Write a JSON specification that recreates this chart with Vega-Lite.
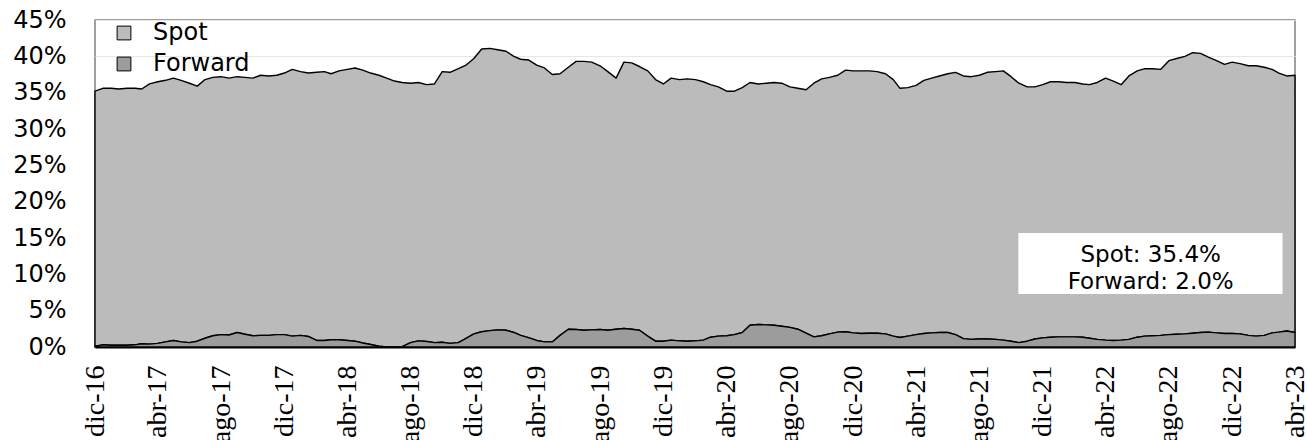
{
  "$schema": "https://vega.github.io/schema/vega-lite/v6.json",
  "width": 1200,
  "height": 327,
  "autosize": {"type": "none"},
  "padding": {"left": 95, "top": 20, "right": 12, "bottom": 93},
  "background": "white",
  "config": {"view": {"stroke": "#808080", "strokeWidth": 1.5}, "font": "DejaVu Sans"},
  "layer": [
    {
      "data": {"values": [
        {"d":"2016-12-01","Spot":35.1,"Forward":0.1},{"d":"2016-12-16","Spot":35.3,"Forward":0.3},
        {"d":"2017-01-01","Spot":35.35,"Forward":0.25},{"d":"2017-01-16","Spot":35.25,"Forward":0.25},
        {"d":"2017-02-01","Spot":35.35,"Forward":0.25},{"d":"2017-02-16","Spot":35.3,"Forward":0.3},
        {"d":"2017-03-01","Spot":35.05,"Forward":0.45},{"d":"2017-03-16","Spot":35.8,"Forward":0.4},
        {"d":"2017-04-01","Spot":36.0,"Forward":0.5},{"d":"2017-04-16","Spot":36.0,"Forward":0.7},
        {"d":"2017-05-01","Spot":36.1,"Forward":0.9},{"d":"2017-05-16","Spot":36.0,"Forward":0.7},
        {"d":"2017-06-01","Spot":35.7,"Forward":0.6},{"d":"2017-06-16","Spot":35.1,"Forward":0.8},
        {"d":"2017-07-01","Spot":35.6,"Forward":1.2},{"d":"2017-07-16","Spot":35.55,"Forward":1.55},
        {"d":"2017-08-01","Spot":35.5,"Forward":1.7},{"d":"2017-08-16","Spot":35.35,"Forward":1.65},
        {"d":"2017-09-01","Spot":35.2,"Forward":2.0},{"d":"2017-09-16","Spot":35.35,"Forward":1.75},
        {"d":"2017-10-01","Spot":35.45,"Forward":1.55},{"d":"2017-10-16","Spot":35.8,"Forward":1.6},
        {"d":"2017-11-01","Spot":35.7,"Forward":1.6},{"d":"2017-11-16","Spot":35.7,"Forward":1.7},
        {"d":"2017-12-01","Spot":36.0,"Forward":1.7},{"d":"2017-12-16","Spot":36.7,"Forward":1.5},
        {"d":"2018-01-01","Spot":36.3,"Forward":1.6},{"d":"2018-01-16","Spot":36.25,"Forward":1.45},
        {"d":"2018-02-01","Spot":36.9,"Forward":0.9},{"d":"2018-02-16","Spot":37.0,"Forward":0.9},
        {"d":"2018-03-01","Spot":36.6,"Forward":1.0},{"d":"2018-03-16","Spot":37.0,"Forward":1.0},
        {"d":"2018-04-01","Spot":37.3,"Forward":0.9},{"d":"2018-04-16","Spot":37.6,"Forward":0.8},
        {"d":"2018-05-01","Spot":37.55,"Forward":0.55},{"d":"2018-05-16","Spot":37.35,"Forward":0.35},
        {"d":"2018-06-01","Spot":37.3,"Forward":0.1},{"d":"2018-06-16","Spot":37.0,"Forward":0.0},
        {"d":"2018-07-01","Spot":36.6,"Forward":0.0},{"d":"2018-07-16","Spot":36.35,"Forward":0.05},
        {"d":"2018-08-01","Spot":35.7,"Forward":0.6},{"d":"2018-08-16","Spot":35.55,"Forward":0.85},
        {"d":"2018-09-01","Spot":35.35,"Forward":0.75},{"d":"2018-09-16","Spot":35.6,"Forward":0.6},
        {"d":"2018-10-01","Spot":37.25,"Forward":0.65},{"d":"2018-10-16","Spot":37.3,"Forward":0.5},
        {"d":"2018-11-01","Spot":37.7,"Forward":0.6},{"d":"2018-11-16","Spot":37.6,"Forward":1.2},
        {"d":"2018-12-01","Spot":37.9,"Forward":1.8},{"d":"2018-12-16","Spot":38.9,"Forward":2.1},
        {"d":"2019-01-01","Spot":38.85,"Forward":2.25},{"d":"2019-01-16","Spot":38.55,"Forward":2.35},
        {"d":"2019-02-01","Spot":38.4,"Forward":2.3},{"d":"2019-02-16","Spot":38.0,"Forward":2.0},
        {"d":"2019-03-01","Spot":38.0,"Forward":1.6},{"d":"2019-03-16","Spot":38.2,"Forward":1.3},
        {"d":"2019-04-01","Spot":37.9,"Forward":0.9},{"d":"2019-04-16","Spot":37.7,"Forward":0.7},
        {"d":"2019-05-01","Spot":36.8,"Forward":0.7},{"d":"2019-05-16","Spot":36.0,"Forward":1.6},
        {"d":"2019-06-01","Spot":36.05,"Forward":2.45},{"d":"2019-06-16","Spot":36.9,"Forward":2.4},
        {"d":"2019-07-01","Spot":37.0,"Forward":2.3},{"d":"2019-07-16","Spot":36.85,"Forward":2.35},
        {"d":"2019-08-01","Spot":36.3,"Forward":2.4},{"d":"2019-08-16","Spot":35.6,"Forward":2.3},
        {"d":"2019-09-01","Spot":34.55,"Forward":2.45},{"d":"2019-09-16","Spot":36.65,"Forward":2.55},
        {"d":"2019-10-01","Spot":36.65,"Forward":2.45},{"d":"2019-10-16","Spot":36.3,"Forward":2.3},
        {"d":"2019-11-01","Spot":36.5,"Forward":1.5},{"d":"2019-11-16","Spot":36.0,"Forward":0.8},
        {"d":"2019-12-01","Spot":35.4,"Forward":0.8},{"d":"2019-12-16","Spot":36.05,"Forward":0.95},
        {"d":"2020-01-01","Spot":35.95,"Forward":0.85},{"d":"2020-01-16","Spot":36.1,"Forward":0.8},
        {"d":"2020-02-01","Spot":35.95,"Forward":0.85},{"d":"2020-02-16","Spot":35.55,"Forward":0.95},
        {"d":"2020-03-01","Spot":34.75,"Forward":1.35},{"d":"2020-03-16","Spot":34.3,"Forward":1.5},
        {"d":"2020-04-01","Spot":33.65,"Forward":1.55},{"d":"2020-04-16","Spot":33.5,"Forward":1.7},
        {"d":"2020-05-01","Spot":33.7,"Forward":2.0},{"d":"2020-05-16","Spot":33.4,"Forward":3.0},
        {"d":"2020-06-01","Spot":33.1,"Forward":3.1},{"d":"2020-06-16","Spot":33.25,"Forward":3.05},
        {"d":"2020-07-01","Spot":33.4,"Forward":3.0},{"d":"2020-07-16","Spot":33.45,"Forward":2.85},
        {"d":"2020-08-01","Spot":33.1,"Forward":2.7},{"d":"2020-08-16","Spot":33.15,"Forward":2.45},
        {"d":"2020-09-01","Spot":33.5,"Forward":1.9},{"d":"2020-09-16","Spot":34.9,"Forward":1.4},
        {"d":"2020-10-01","Spot":35.35,"Forward":1.55},{"d":"2020-10-16","Spot":35.3,"Forward":1.8},
        {"d":"2020-11-01","Spot":35.35,"Forward":2.05},{"d":"2020-11-16","Spot":36.0,"Forward":2.1},
        {"d":"2020-12-01","Spot":36.05,"Forward":1.95},{"d":"2020-12-16","Spot":36.15,"Forward":1.85},
        {"d":"2021-01-01","Spot":36.1,"Forward":1.9},{"d":"2021-01-16","Spot":36.0,"Forward":1.9},
        {"d":"2021-02-01","Spot":35.8,"Forward":1.8},{"d":"2021-02-16","Spot":35.3,"Forward":1.5},
        {"d":"2021-03-01","Spot":34.3,"Forward":1.3},{"d":"2021-03-16","Spot":34.2,"Forward":1.5},
        {"d":"2021-04-01","Spot":34.3,"Forward":1.7},{"d":"2021-04-16","Spot":34.85,"Forward":1.85},
        {"d":"2021-05-01","Spot":35.05,"Forward":1.95},{"d":"2021-05-16","Spot":35.3,"Forward":2.0},
        {"d":"2021-06-01","Spot":35.6,"Forward":2.0},{"d":"2021-06-16","Spot":36.1,"Forward":1.7},
        {"d":"2021-07-01","Spot":36.15,"Forward":1.15},{"d":"2021-07-16","Spot":36.15,"Forward":1.05},
        {"d":"2021-08-01","Spot":36.3,"Forward":1.1},{"d":"2021-08-16","Spot":36.7,"Forward":1.1},
        {"d":"2021-09-01","Spot":36.85,"Forward":1.05},{"d":"2021-09-16","Spot":37.05,"Forward":0.95},
        {"d":"2021-10-01","Spot":36.4,"Forward":0.8},{"d":"2021-10-16","Spot":35.7,"Forward":0.6},
        {"d":"2021-11-01","Spot":35.0,"Forward":0.8},{"d":"2021-11-16","Spot":34.7,"Forward":1.1},
        {"d":"2021-12-01","Spot":34.85,"Forward":1.25},{"d":"2021-12-16","Spot":35.15,"Forward":1.35},
        {"d":"2022-01-01","Spot":35.1,"Forward":1.4},{"d":"2022-01-16","Spot":35.0,"Forward":1.4},
        {"d":"2022-02-01","Spot":35.0,"Forward":1.4},{"d":"2022-02-16","Spot":34.85,"Forward":1.35},
        {"d":"2022-03-01","Spot":34.9,"Forward":1.2},{"d":"2022-03-16","Spot":35.35,"Forward":1.05},
        {"d":"2022-04-01","Spot":36.05,"Forward":0.95},{"d":"2022-04-16","Spot":35.7,"Forward":0.9},
        {"d":"2022-05-01","Spot":35.15,"Forward":0.95},{"d":"2022-05-16","Spot":36.25,"Forward":1.05},
        {"d":"2022-06-01","Spot":36.65,"Forward":1.35},{"d":"2022-06-16","Spot":36.8,"Forward":1.5},
        {"d":"2022-07-01","Spot":36.75,"Forward":1.55},{"d":"2022-07-16","Spot":36.6,"Forward":1.6},
        {"d":"2022-08-01","Spot":37.7,"Forward":1.7},{"d":"2022-08-16","Spot":37.95,"Forward":1.75},
        {"d":"2022-09-01","Spot":38.2,"Forward":1.8},{"d":"2022-09-16","Spot":38.6,"Forward":1.9},
        {"d":"2022-10-01","Spot":38.4,"Forward":2.0},{"d":"2022-10-16","Spot":37.85,"Forward":2.05},
        {"d":"2022-11-01","Spot":37.45,"Forward":1.95},{"d":"2022-11-16","Spot":37.05,"Forward":1.85},
        {"d":"2022-12-01","Spot":37.35,"Forward":1.85},{"d":"2022-12-16","Spot":37.2,"Forward":1.8},
        {"d":"2023-01-01","Spot":37.1,"Forward":1.6},{"d":"2023-01-16","Spot":37.2,"Forward":1.5},
        {"d":"2023-02-01","Spot":36.9,"Forward":1.6},{"d":"2023-02-16","Spot":36.25,"Forward":1.95},
        {"d":"2023-03-01","Spot":35.65,"Forward":2.05},{"d":"2023-03-16","Spot":35.1,"Forward":2.2},
        {"d":"2023-04-01","Spot":35.4,"Forward":2.0}
      ]},
      "transform": [{"fold": ["Spot", "Forward"], "as": ["serie", "valor"]}],
      "mark": {"type": "area", "stroke": "black", "strokeWidth": 1.4, "strokeJoin": "round", "interpolate": "linear"},
      "encoding": {
        "x": {
          "field": "d", "type": "temporal",
          "scale": {"type": "utc", "nice": false, "domain": [{"year": 2016, "month": 12, "date": 1, "utc": true}, {"year": 2023, "month": 4, "date": 1, "utc": true}]},
          "axis": {
            "title": null,
            "values": [
              {"year": 2016, "month": 12, "date": 1, "utc": true},
              {"year": 2017, "month": 4, "date": 1, "utc": true},
              {"year": 2017, "month": 8, "date": 1, "utc": true},
              {"year": 2017, "month": 12, "date": 1, "utc": true},
              {"year": 2018, "month": 4, "date": 1, "utc": true},
              {"year": 2018, "month": 8, "date": 1, "utc": true},
              {"year": 2018, "month": 12, "date": 1, "utc": true},
              {"year": 2019, "month": 4, "date": 1, "utc": true},
              {"year": 2019, "month": 8, "date": 1, "utc": true},
              {"year": 2019, "month": 12, "date": 1, "utc": true},
              {"year": 2020, "month": 4, "date": 1, "utc": true},
              {"year": 2020, "month": 8, "date": 1, "utc": true},
              {"year": 2020, "month": 12, "date": 1, "utc": true},
              {"year": 2021, "month": 4, "date": 1, "utc": true},
              {"year": 2021, "month": 8, "date": 1, "utc": true},
              {"year": 2021, "month": 12, "date": 1, "utc": true},
              {"year": 2022, "month": 4, "date": 1, "utc": true},
              {"year": 2022, "month": 8, "date": 1, "utc": true},
              {"year": 2022, "month": 12, "date": 1, "utc": true},
              {"year": 2023, "month": 4, "date": 1, "utc": true}
            ],
            "labelExpr": "['ene','feb','mar','abr','may','jun','jul','ago','sep','oct','nov','dic'][utcmonth(datum.value)] + '-' + utcFormat(datum.value, '%y')",
            "labelAngle": 270,
            "labelAlign": "right",
            "labelBaseline": "middle",
            "labelFont": "Liberation Sans Narrow",
            "labelFontSize": 28,
            "labelColor": "black",
            "labelPadding": 18,
            "labelOverlap": false,
            "labelFlush": false,
            "ticks": false,
            "grid": false,
            "domainColor": "black",
            "domainWidth": 2
          }
        },
        "y": {
          "field": "valor", "type": "quantitative", "stack": "zero",
          "scale": {"domain": [0, 45], "nice": false},
          "axis": {
            "title": null,
            "values": [0, 5, 10, 15, 20, 25, 30, 35, 40, 45],
            "labelExpr": "datum.value + '%'",
            "labelFont": "DejaVu Sans",
            "labelFontSize": 24,
            "labelColor": "black",
            "labelPadding": 29,
            "labelOverlap": false,
            "labelFlush": false,
            "ticks": false,
            "domain": false,
            "gridColor": "#e6e6e6",
            "gridWidth": 1
          }
        },
        "fill": {
          "field": "serie", "type": "nominal",
          "scale": {"domain": ["Spot", "Forward"], "range": ["#bbbbbb", "#9c9c9c"]},
          "legend": {
            "title": null,
            "orient": "none",
            "legendX": 17,
            "legendY": 1,
            "padding": 0,
            "labelFont": "DejaVu Sans",
            "labelFontSize": 24,
            "labelColor": "black",
            "symbolType": "square",
            "symbolSize": 190,
            "symbolStrokeColor": "black",
            "symbolStrokeWidth": 1,
            "rowPadding": 7,
            "labelOffset": 17
          }
        },
        "order": {"field": "serie", "sort": "ascending"}
      }
    },
    {
      "data": {"values": [{}]},
      "mark": {"type": "rect", "fill": "white", "stroke": null},
      "encoding": {
        "x": {"datum": {"year": 2021, "month": 10, "date": 15, "utc": true}, "type": "temporal"},
        "x2": {"datum": {"year": 2023, "month": 3, "date": 8, "utc": true}},
        "y": {
          "datum": 15.7, "type": "quantitative",
          "axis": {
            "title": null,
            "values": [0, 5, 10, 15, 20, 25, 30, 35, 40, 45],
            "labelExpr": "datum.value + '%'",
            "labelFont": "DejaVu Sans",
            "labelFontSize": 24,
            "labelColor": "black",
            "labelPadding": 29,
            "labelOverlap": false,
            "labelFlush": false,
            "ticks": false,
            "domain": false,
            "gridColor": "#e6e6e6",
            "gridWidth": 1
          }
        },
        "y2": {"datum": 7.3}
      }
    },
    {
      "data": {"values": [{}]},
      "mark": {"type": "text", "font": "DejaVu Sans", "fontSize": 23, "color": "black", "align": "center", "baseline": "alphabetic", "lineHeight": 27, "text": ["Spot: 35.4%", "Forward: 2.0%"]},
      "encoding": {
        "x": {"datum": {"year": 2022, "month": 6, "date": 27, "utc": true}, "type": "temporal"},
        "y": {
          "datum": 11.74, "type": "quantitative",
          "axis": {
            "title": null,
            "values": [0, 5, 10, 15, 20, 25, 30, 35, 40, 45],
            "labelExpr": "datum.value + '%'",
            "labelFont": "DejaVu Sans",
            "labelFontSize": 24,
            "labelColor": "black",
            "labelPadding": 29,
            "labelOverlap": false,
            "labelFlush": false,
            "ticks": false,
            "domain": false,
            "gridColor": "#e6e6e6",
            "gridWidth": 1
          }
        }
      }
    }
  ]
}
